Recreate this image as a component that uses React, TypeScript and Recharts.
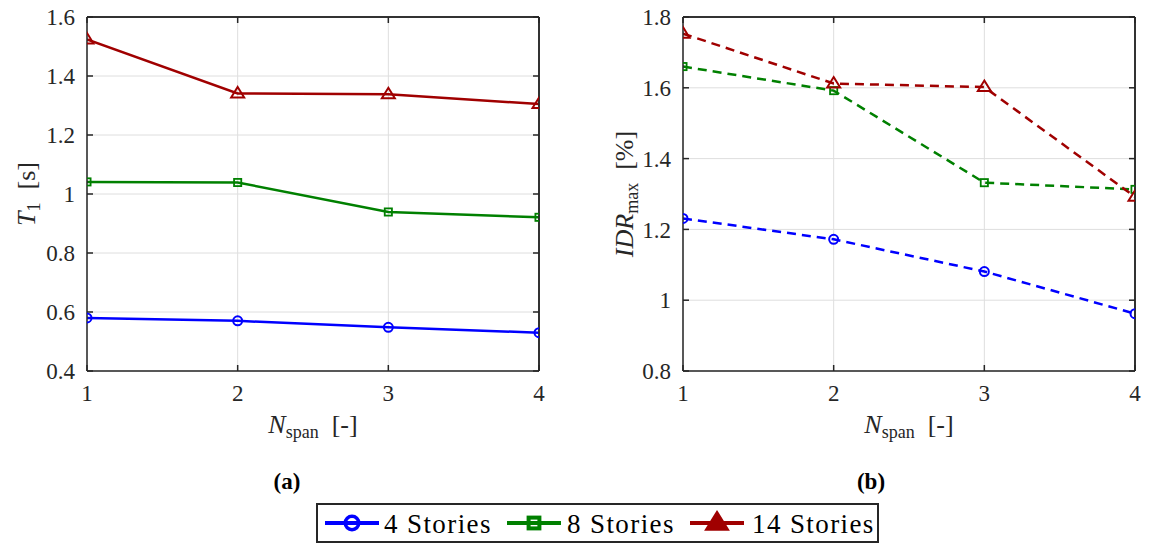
import React from 'react';
import { LineChart, Line, XAxis, YAxis, CartesianGrid, Label, ReferenceLine } from 'recharts';

// number of spans on the x axis
const spans = [1, 2, 3, 4];

// (a) fundamental period T1 [s]
const periodFour = [0.58, 0.57, 0.548, 0.53];
const periodEight = [1.041, 1.039, 0.939, 0.921];
const periodFourteen = [1.524, 1.341, 1.338, 1.305];

// (b) maximum inter-storey drift [%]
const driftFour = [1.231, 1.172, 1.081, 0.962];
const driftEight = [1.66, 1.592, 1.332, 1.313];
const driftFourteen = [1.753, 1.612, 1.602, 1.292];

const periodTicks = [0.4, 0.6, 0.8, 1, 1.2, 1.4, 1.6];
const driftTicks = [0.8, 1, 1.2, 1.4, 1.6, 1.8];
const storyLabels = ['4 Stories', '8 Stories', '14 Stories'];

const BLUE = '#0000ff';
const GREEN = '#008000';
const RED = '#a00000';
const INK = '#262626';
const SERIF = 'Liberation Serif, Times New Roman, serif';

const periodRows = spans.map((n, i) => ({ n, s4: periodFour[i], s8: periodEight[i], s14: periodFourteen[i] }));
const driftRows = spans.map((n, i) => ({ n, s4: driftFour[i], s8: driftEight[i], s14: driftFourteen[i] }));

type Kind = 'circle' | 'square' | 'triangle';

const series: { key: string; kind: Kind; color: string }[] = [
    { key: 's4', kind: 'circle', color: BLUE },
    { key: 's8', kind: 'square', color: GREEN },
    { key: 's14', kind: 'triangle', color: RED },
];

const markerShape = (kind: Kind, color: string, cx: number, cy: number, big = false, key?: any) => {
    const k = big ? 1.5 : 1;
    const sw = big ? 3.5 : 2;
    if (kind === 'circle') {
        return <circle key={key} cx={cx} cy={cy} r={4.5 * k} fill="none" stroke={color} strokeWidth={sw} />;
    }
    if (kind === 'square') {
        const h = 3.6 * k;
        return <rect key={key} x={cx - h} y={cy - h} width={h * 2} height={h * 2} fill="none" stroke={color} strokeWidth={big ? 4 : 1.8} />;
    }
    const w = 6.5 * k;
    return (
        <polygon
            key={key}
            points={`${cx},${cy - 6.5 * k} ${cx + w},${cy + 4 * k} ${cx - w},${cy + 4 * k}`}
            fill={big ? color : 'none'}
            stroke={color}
            strokeWidth={sw}
            strokeLinejoin="miter"
        />
    );
};

const dotFor = (kind: Kind, color: string) => (props: any) => {
    const { cx, cy, index } = props;
    if (cx == null || cy == null) return <g key={index} />;
    return markerShape(kind, color, cx, cy, false, index);
};

const fmt = (v: number) => String(+v.toFixed(1));

const tickStyle = { fill: INK, fontSize: 23, style: { fontFamily: SERIF } };
// mirror axes keep their tick marks but carry no labels
const blankTick = () => <g />;
const titleStyle = { fontFamily: SERIF };

const XTitle = (props: any) => {
    const { viewBox } = props;
    const x = viewBox.x + viewBox.width / 2;
    const y = viewBox.y + 62;
    return (
        <text x={x} y={y} textAnchor="middle" style={titleStyle} fontSize={26} fill={INK}>
            <tspan fontStyle="italic">N</tspan>
            <tspan fontSize={18} dy={5}>span</tspan>
            <tspan dy={-5}>{'\u00a0\u00a0[-]'}</tspan>
        </text>
    );
};

const PeriodTitle = (props: any) => {
    const { viewBox } = props;
    const x = viewBox.x + viewBox.width - 52;
    const y = viewBox.y + viewBox.height / 2;
    return (
        <text transform={`translate(${x},${y}) rotate(-90)`} textAnchor="middle" style={titleStyle} fontSize={26} fill={INK}>
            <tspan fontStyle="italic">T</tspan>
            <tspan fontSize={18} dy={5}>1</tspan>
            <tspan dy={-5}>{'\u00a0\u00a0[s]'}</tspan>
        </text>
    );
};

const DriftTitle = (props: any) => {
    const { viewBox } = props;
    const x = viewBox.x + viewBox.width - 50;
    const y = viewBox.y + viewBox.height / 2;
    return (
        <text transform={`translate(${x},${y}) rotate(-90)`} textAnchor="middle" style={titleStyle} fontSize={26} fill={INK}>
            <tspan fontStyle="italic">IDR</tspan>
            <tspan fontSize={18} dy={5}>max</tspan>
            <tspan dy={-5}>{'\u00a0\u00a0[%]'}</tspan>
        </text>
    );
};

interface PanelProps {
    rows: any[];
    ticks: number[];
    dashed: boolean;
    width: number;
    marginLeft: number;
    marginRight: number;
    title: (p: any) => React.ReactNode;
}

const frame = { stroke: INK, strokeWidth: 1.5 };

const Panel: React.FC<PanelProps> = ({ rows, ticks, dashed, width, marginLeft, marginRight, title }) => {
    const domain: [number, number] = [ticks[0], ticks[ticks.length - 1]];
    return (
        <LineChart width={width} height={460} data={rows} margin={{ top: 15, right: marginRight, bottom: 49, left: marginLeft }}>
            <CartesianGrid stroke="#dedede" strokeWidth={1} />
            <XAxis
                dataKey="n"
                type="number"
                domain={[1, 4]}
                ticks={spans}
                interval={0}
                allowDataOverflow
                height={40}
                tick={tickStyle}
                tickSize={-6}
                tickMargin={20}
                axisLine={frame}
                tickLine={frame}
            >
                <Label content={XTitle} />
            </XAxis>
            <XAxis
                xAxisId="top"
                orientation="top"
                dataKey="n"
                type="number"
                domain={[1, 4]}
                ticks={spans}
                interval={0}
                allowDataOverflow
                height={2}
                tick={blankTick}
                tickSize={-6}
                tickMargin={0}
                axisLine={frame}
                tickLine={frame}
            />
            <YAxis
                type="number"
                domain={domain}
                ticks={ticks}
                interval={0}
                allowDataOverflow
                width={60}
                tick={tickStyle}
                tickFormatter={fmt}
                tickSize={-6}
                tickMargin={18}
                axisLine={frame}
                tickLine={frame}
            >
                <Label content={title} />
            </YAxis>
            <YAxis
                yAxisId="right"
                orientation="right"
                type="number"
                domain={domain}
                ticks={ticks}
                interval={0}
                allowDataOverflow
                width={2}
                tick={blankTick}
                tickSize={-6}
                tickMargin={0}
                axisLine={frame}
                tickLine={frame}
            />
            {/* invisible series bound to the mirror axes so they get drawn */}
            <Line
                xAxisId="top"
                yAxisId="right"
                dataKey="s4"
                stroke="none"
                dot={false}
                activeDot={false}
                legendType="none"
                isAnimationActive={false}
            />
            <ReferenceLine x={4} stroke={INK} strokeWidth={1.5} />
            <ReferenceLine y={domain[1]} stroke={INK} strokeWidth={1.5} />
            {series.map((s) => (
                <Line
                    key={s.key}
                    type="linear"
                    dataKey={s.key}
                    stroke={s.color}
                    strokeWidth={2.5}
                    strokeDasharray={dashed ? '9 6' : undefined}
                    dot={dotFor(s.kind, s.color)}
                    activeDot={false}
                    isAnimationActive={false}
                />
            ))}
        </LineChart>
    );
};

const legendSlots = [
    { line: 7, text: 66 },
    { line: 189, text: 249 },
    { line: 372, text: 434 },
];

const StoryLegend: React.FC = () => (
    <div
        style={{
            position: 'absolute',
            left: 316,
            top: 503,
            width: 559,
            height: 36,
            border: `2px solid ${INK}`,
            background: '#fff',
        }}
    >
        <svg width={559} height={36} style={{ display: 'block' }}>
            {series.map((s, i) => (
                <g key={s.key}>
                    <line x1={legendSlots[i].line} y1={18} x2={legendSlots[i].line + 54} y2={18} stroke={s.color} strokeWidth={4} />
                    {markerShape(s.kind, s.color, legendSlots[i].line + 27, 18, true)}
                    <text x={legendSlots[i].text} y={28} style={titleStyle} fontSize={27} letterSpacing={1.4} fill="#000">
                        {storyLabels[i]}
                    </text>
                </g>
            ))}
        </svg>
    </div>
);

const captionStyle: React.CSSProperties = {
    position: 'absolute',
    top: 468,
    width: 60,
    textAlign: 'center',
    fontWeight: 'bold',
    fontSize: 23,
    color: '#000',
    lineHeight: '28px',
};

export default function App() {
    return (
        <div
            style={{
                position: 'absolute',
                left: 0,
                top: 0,
                width: 1151,
                height: 554,
                background: '#fff',
                overflow: 'hidden',
                fontFamily: SERIF,
            }}
        >
            <div style={{ position: 'absolute', left: 0, top: 0 }}>
                <Panel rows={periodRows} ticks={periodTicks} dashed={false} width={560} marginLeft={27} marginRight={19} title={PeriodTitle} />
            </div>
            <div style={{ position: 'absolute', left: 580, top: 0 }}>
                <Panel rows={driftRows} ticks={driftTicks} dashed width={571} marginLeft={43} marginRight={14} title={DriftTitle} />
            </div>
            <div style={{ ...captionStyle, left: 257 }}>(a)</div>
            <div style={{ ...captionStyle, left: 841 }}>(b)</div>
            <StoryLegend />
        </div>
    );
}
